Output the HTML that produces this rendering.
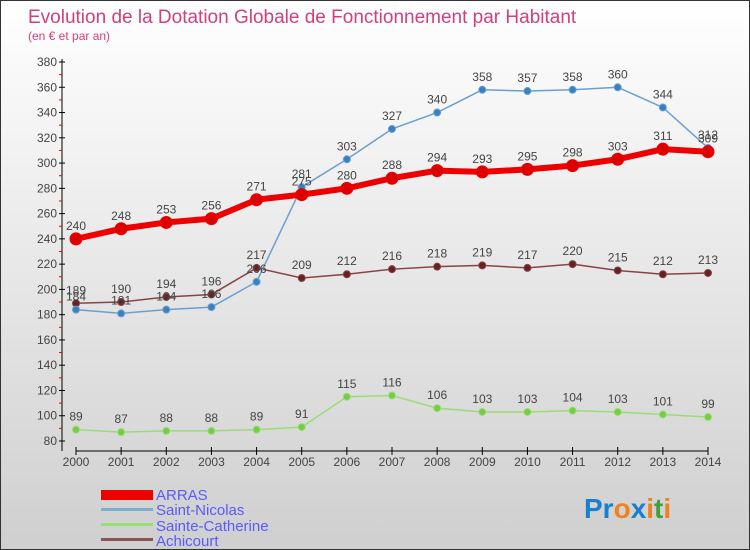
<!DOCTYPE html>
<html><head><meta charset="utf-8"><style>
body{margin:0}
#c{width:750px;height:550px;position:relative;overflow:hidden;font-family:"Liberation Sans",sans-serif;background:linear-gradient(#ffffff,#cfcfcf);box-sizing:border-box;border:1px solid #333}
</style></head><body>
<div id="c">
<svg id="s" width="750" height="550">
<text x="27" y="22" font-size="19" fill="#d04080">Evolution de la Dotation Globale de Fonctionnement par Habitant</text>
<text x="27" y="39" font-size="12" fill="#d04080">(en € et par an)</text>
<g id="axes"></g><g id="series"></g>
<g>
<rect x="100" y="489" width="52" height="10" fill="#e00"/>
<text x="155" y="499" font-size="15" fill="#5a5aff">ARRAS</text>
<rect x="100" y="507" width="52" height="3" fill="#7aaed0"/>
<text x="155" y="514" font-size="15" fill="#5a5aff">Saint-Nicolas</text>
<rect x="100" y="522" width="52" height="3" fill="#99dd77"/>
<text x="155" y="530" font-size="15" fill="#5a5aff">Sainte-Catherine</text>
<rect x="100" y="537" width="52" height="3" fill="#885555"/>
<text x="155" y="545" font-size="15" fill="#5a5aff">Achicourt</text>
</g>
<text x="583" y="517" font-size="28" font-weight="bold"><tspan fill="#1a7fd0">Pr</tspan><tspan fill="#f08020">o</tspan><tspan fill="#1a7fd0">x</tspan><tspan fill="#f08020">i</tspan><tspan fill="#40a040">t</tspan><tspan fill="#f08020">i</tspan></text>
</svg></div>
<script>
const years=[2000,2001,2002,2003,2004,2005,2006,2007,2008,2009,2010,2011,2012,2013,2014];
const arras=[240,248,253,256,271,275,280,288,294,293,295,298,303,311,309];
const stNicolas=[184,181,184,186,206,281,303,327,340,358,357,358,360,344,312];
const stCatherine=[89,87,88,88,89,91,115,116,106,103,103,104,103,101,99];
const achicourt=[189,190,194,196,217,209,212,216,218,219,217,220,215,212,213];
const yTicks=[80,100,120,140,160,180,200,220,240,260,280,300,320,340,360,380];
const NS="http://www.w3.org/2000/svg";
const X=i=>75+i*(632/14), Y=v=>440-(v-80)*(379/300);
function mk(t,a,p){const e=document.createElementNS(NS,t);for(const k in a)e.setAttribute(k,a[k]);p.appendChild(e);return e;}
const ax=document.getElementById('axes'), sr=document.getElementById('series');
let l=mk('line',{x1:61,y1:58,x2:61,y2:450,stroke:'#000'},ax);

l=mk('line',{x1:75,y1:450,x2:707,y2:450,stroke:'#000'},ax);

yTicks.forEach((v,i)=>{const y=Y(v);
 mk('line',{x1:58,y1:y,x2:64,y2:y,stroke:'#000'},ax);
 if(i<yTicks.length-1){const m=Y(v+10);mk('line',{x1:58,y1:m,x2:61,y2:m,stroke:'#e00'},ax);}
 const t=mk('text',{x:56,y:y+4,'font-size':12,fill:'#444','text-anchor':'end'},ax);t.textContent=v;
 });
years.forEach((yr,i)=>{const x=X(i);mk('line',{x1:x,y1:446,x2:x,y2:454,stroke:'#000'},ax);
 const t=mk('text',{x:x,y:465,'font-size':12,fill:'#444','text-anchor':'middle'},ax);t.textContent=yr;
 });
function draw(d,name,col,dot,w,r){const g=mk('g',{},sr);
 
 const p=mk('polyline',{points:d.map((v,i)=>X(i)+','+Y(v)).join(' '),fill:'none',stroke:col,'stroke-width':w},g);
 
 d.forEach((v,i)=>{const c=mk('circle',{cx:X(i),cy:Y(v),r:r,fill:dot,stroke:col,'stroke-width':1},g);
  
  const t=mk('text',{x:X(i),y:Y(v)-9,'font-size':12,fill:'#444','text-anchor':'middle'},g);t.textContent=v;
  });}
draw(stCatherine,'sainte-catherine','#99dd77','#77cc44',1.5,3.5);
draw(achicourt,'achicourt','#884444','#662222',1.5,3.5);
draw(stNicolas,'saint-nicolas','#6aa0d0','#3a80c0',1.5,3.5);
draw(arras,'arras','#ee0000','#dd0000',6,6);
</script></body></html>
